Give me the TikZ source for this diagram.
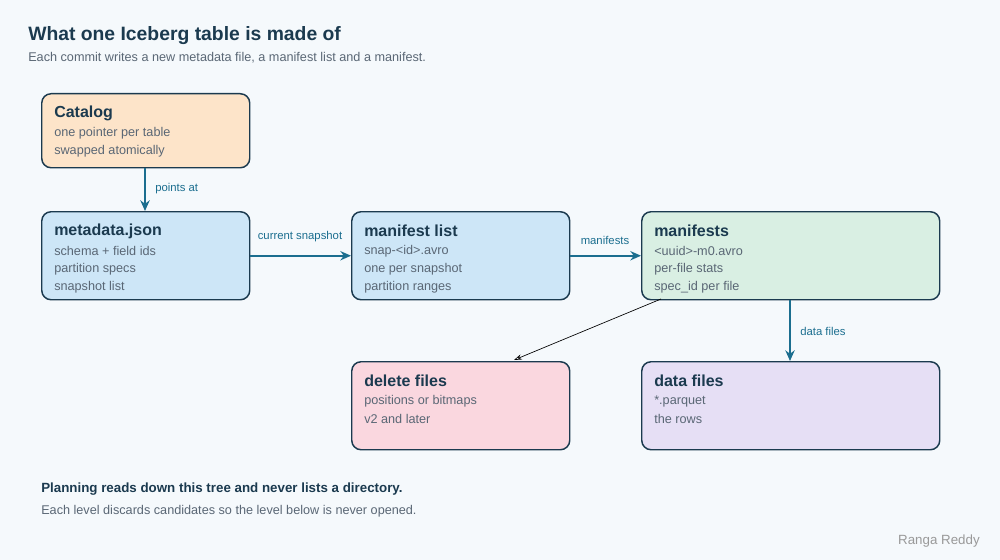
\documentclass[tikz,border=0pt]{standalone}
\usepackage{fontspec}
\setmainfont{Liberation Sans}
\usetikzlibrary{arrows.meta}
\definecolor{bg}{HTML}{F5F9FC}
\definecolor{navy}{HTML}{1B3A4F}
\definecolor{teal}{HTML}{1B6E8F}
\definecolor{sub}{HTML}{5A6775}
\definecolor{cOrange}{HTML}{FDE4C9}
\definecolor{cBlue}{HTML}{CDE6F7}
\definecolor{cGreen}{HTML}{D9EFE3}
\definecolor{cPink}{HTML}{FAD7DF}
\definecolor{cPurple}{HTML}{E6DFF5}
\begin{document}
\begin{tikzpicture}[x=0.75pt,y=-0.75pt,
  box/.style={draw=navy,line width=1.1pt,rounded corners=7pt},
  ttl/.style={anchor=west,font=\fontsize{12}{14}\selectfont\bfseries,text=navy,inner sep=0},
  ln/.style={anchor=west,font=\fontsize{9.5}{11}\selectfont,text=sub,inner sep=0},
  arr/.style={draw=teal,line width=1.8pt,-{Stealth[length=8pt,width=7pt]}},
  lab/.style={font=\fontsize{8.5}{10}\selectfont,text=teal,inner sep=0}]
\fill[bg] (0,0) rectangle (1000,560);
\useasboundingbox (0,0) rectangle (1000,560);
\node[anchor=west,inner sep=0,font=\fontsize{14.5}{17}\selectfont\bfseries,text=navy] (title) at (28,36) {What one Iceberg table is made of};
\node[anchor=west,inner sep=0,font=\fontsize{9.5}{11}\selectfont,text=sub] (stitle) at (28,58) {Each commit writes a new metadata file, a manifest list and a manifest.};
% boxes
\node[box,fill=cOrange,minimum width=208*0.75pt,minimum height=74*0.75pt,anchor=north west] (cat) at (41,93) {};
\node[box,fill=cBlue,minimum width=208*0.75pt,minimum height=88*0.75pt,anchor=north west] (meta) at (41,211) {};
\node[box,fill=cBlue,minimum width=218*0.75pt,minimum height=88*0.75pt,anchor=north west] (ml) at (351,211) {};
\node[box,fill=cGreen,minimum width=298*0.75pt,minimum height=88*0.75pt,anchor=north west] (mf) at (641,211) {};
\node[box,fill=cPink,minimum width=218*0.75pt,minimum height=88*0.75pt,anchor=north west] (del) at (351,361) {};
\node[box,fill=cPurple,minimum width=298*0.75pt,minimum height=88*0.75pt,anchor=north west] (df) at (641,361) {};
% texts
\node[ttl] (t1) at (54,113) {Catalog};
\node[ln] (t1a) at (54,133) {one pointer per table};
\node[ln] (t1b) at (54,151) {swapped atomically};
\node[ttl] (t2) at (54,231) {metadata.json};
\node[ln] (t2a) at (54,251) {schema + field ids};
\node[ln] (t2b) at (54,269) {partition specs};
\node[ln] (t2c) at (54,287) {snapshot list};
\node[ttl] (t3) at (364,231) {manifest list};
\node[ln] (t3a) at (364,251) {snap-<id>.avro};
\node[ln] (t3b) at (364,269) {one per snapshot};
\node[ln] (t3c) at (364,287) {partition ranges};
\node[ttl] (t4) at (654,231) {manifests};
\node[ln] (t4a) at (654,251) {<uuid>-m0.avro};
\node[ln] (t4b) at (654,269) {per-file stats};
\node[ln] (t4c) at (654,287) {spec\_id per file};
\node[ttl] (t5) at (364,381) {delete files};
\node[ln] (t5a) at (364,401) {positions or bitmaps};
\node[ln] (t5b) at (364,419) {v2 and later};
\node[ttl] (t6) at (654,381) {data files};
\node[ln] (t6a) at (654,401) {*.parquet};
\node[ln] (t6b) at (654,419) {the rows};
% connectors
\draw[arr] (cat.south -| 145,0) -- (meta.north -| 145,0);
\node[lab,anchor=west] (l1) at (155,189) {points at};
\draw[arr] (meta.east) -- (ml.west);
\node[lab] (l2) at (300,237) {current snapshot};
\draw[arr] (ml.east) -- (mf.west);
\node[lab] (l3) at (605,240) {manifests};
\draw[arr] (mf.south -| 790,0) -- (df.north -| 790,0);
\node[lab,anchor=west] (l4) at (800,331) {data files};
\coordinate (a0) at (661,299);
\coordinate (a1) at (514,360);
\draw[black,line width=0.5pt,-{Stealth[length=6pt,width=4pt,open]}] (a0) -- (a1);
% footer
\node[anchor=west,inner sep=0,font=\fontsize{10}{12}\selectfont\bfseries,text=navy] (f1) at (41,489) {Planning reads down this tree and never lists a directory.};
\node[anchor=west,inner sep=0,font=\fontsize{9.5}{11}\selectfont,text=sub] (f2) at (41,511) {Each level discards candidates so the level below is never opened.};
\node[anchor=east,inner sep=0,font=\fontsize{10}{12}\selectfont,text=gray!80] (sig) at (980,541) {Ranga Reddy};
\end{tikzpicture}
\end{document}
